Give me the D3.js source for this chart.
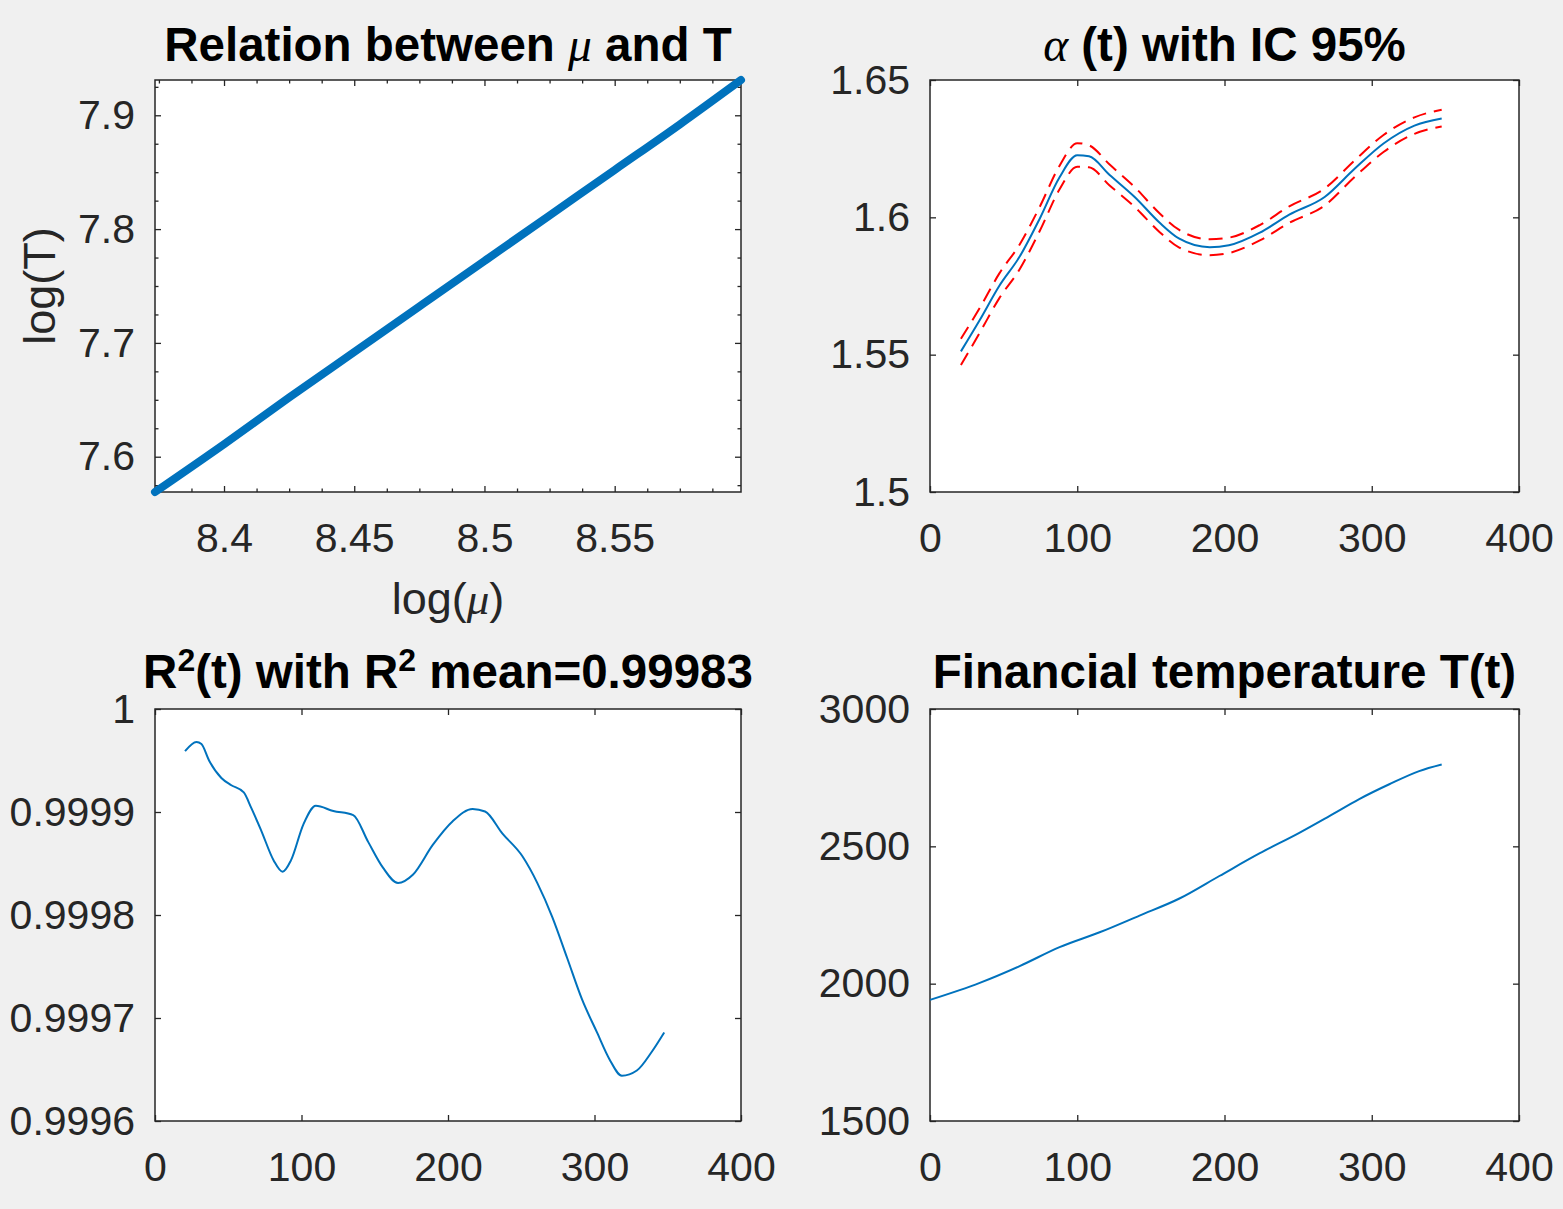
<!DOCTYPE html>
<html><head><meta charset="utf-8">
<script src="https://cdn.jsdelivr.net/npm/d3@7"></script>
<style>
body{margin:0;background:#f0f0f0;}
svg{display:block;}
</style>
</head><body><script>
// ---------------- DATA ----------------
// Panel 1: Relation between mu and T (log-log)
const logMu = [8.3735, 8.400, 8.425, 8.450, 8.475, 8.500, 8.525, 8.550, 8.575, 8.5985];
const logT  = [7.569, 7.611, 7.652, 7.692, 7.732, 7.772, 7.812, 7.852, 7.892, 7.931];
const p1XTicks = [8.4, 8.45, 8.5, 8.55];
const p1YTicks = [7.6, 7.7, 7.8, 7.9];

// Panel 2: alpha(t) with 95% confidence interval
const alphaT     = [21, 34, 47, 61, 74.5, 88, 100, 108, 122, 139, 156, 169, 190, 203, 224, 244, 268, 288, 308, 329, 347.5];
const alphaVal   = [1.5512, 1.5628, 1.5750, 1.5858, 1.5995, 1.6146, 1.6226, 1.6222, 1.6154, 1.6074, 1.5980, 1.5923, 1.5891, 1.5898, 1.5944, 1.6010, 1.6074, 1.6175, 1.6269, 1.6334, 1.6360];
const alphaUpper = [1.5558, 1.5672, 1.5795, 1.5902, 1.6038, 1.6188, 1.6270, 1.6262, 1.6192, 1.6110, 1.6014, 1.5955, 1.5920, 1.5926, 1.5972, 1.6040, 1.6105, 1.6205, 1.6300, 1.6364, 1.6392];
const alphaLower = [1.5462, 1.5582, 1.5705, 1.5812, 1.5950, 1.6102, 1.6184, 1.6182, 1.6116, 1.6038, 1.5946, 1.5891, 1.5862, 1.5870, 1.5916, 1.5980, 1.6043, 1.6145, 1.6238, 1.6304, 1.6331];
const p2YTicks = [1.5, 1.55, 1.6, 1.65];

// Panel 3: R^2(t)
const r2T   = [20.5, 28.3, 31.7, 36.9, 45.3, 52.1, 60.6, 65.7, 72.5, 81, 87.1, 92.8, 101.3, 109.8, 121.7, 135.3, 145.5, 155.6, 165.9, 176, 189.6, 203.2, 216.8, 225.3, 237.2, 250.8, 261, 271.2, 281.4, 291.5, 301.7, 310.2, 318.7, 328.9, 339, 347.6];
const r2Val = [0.999959, 0.999968, 0.999966, 0.999950, 0.999933, 0.999926, 0.999919, 0.999904, 0.999882, 0.999853, 0.999842, 0.999853, 0.999888, 0.999906, 0.999901, 0.999897, 0.999871, 0.999846, 0.999831, 0.999839, 0.999868, 0.999891, 0.999903, 0.9999005, 0.999879, 0.999857, 0.999831, 0.999798, 0.999758, 0.999718, 0.999686, 0.999660, 0.999644, 0.999649, 0.999667, 0.999686];
const p3YTicks = [0.9996, 0.9997, 0.9998, 0.9999, 1];

// Panel 4: Financial temperature T(t)
const tempT   = [0, 33.8, 60.9, 88, 115.2, 142.3, 169.4, 196.5, 223.7, 250.8, 271.2, 291.5, 311.9, 332.2, 347.5];
const tempVal = [1941, 2003, 2064, 2133, 2187, 2248, 2310, 2392, 2474, 2549, 2610, 2672, 2726, 2774, 2798];
const p4YTicks = [1500, 2000, 2500, 3000];

const tTicks = [0, 100, 200, 300, 400];

// ---------------- STYLE / LAYOUT ----------------
const W = 1563, H = 1209;
const FONT = '"Liberation Sans", Arial, Helvetica, sans-serif';
const SERIF = '"Liberation Serif", "Times New Roman", serif';
const AX = '#262626';
const BLUE = '#0072BD';
const RED = '#FF0000';
const TICKFS = 41;
const LABELFS = 45;
const TITLEFS = 47.5;

const svg = d3.select('body').append('svg').attr('width', W).attr('height', H);
svg.append('rect').attr('width', W).attr('height', H).attr('fill', '#f0f0f0');

const cols = [{left: 155, right: 741}, {left: 930, right: 1519}];
const rows = [{top: 80, bottom: 492}, {top: 709, bottom: 1121}];

const fmt = d => String(d);

function makePanel(col, row, xDomain, yDomain, xTicks, yTicks, xMinor, yMinor) {
  const p = {left: cols[col].left, right: cols[col].right, top: rows[row].top, bottom: rows[row].bottom};
  const x = d3.scaleLinear().domain(xDomain).range([p.left, p.right]);
  const y = d3.scaleLinear().domain(yDomain).range([p.bottom, p.top]);
  const g = svg.append('g');
  g.append('rect').attr('x', p.left).attr('y', p.top).attr('width', p.right - p.left)
    .attr('height', p.bottom - p.top).attr('fill', '#ffffff');
  const TL = 6, ML = 3.5;
  const ax = (gen, tr) => {
    const a = g.append('g').attr('transform', tr).call(gen);
    a.select('.domain').remove();
    a.selectAll('line').attr('stroke', AX).attr('stroke-width', 1.3);
    a.selectAll('text').attr('fill', AX).attr('font-size', TICKFS).attr('font-family', FONT);
    return a;
  };
  ax(d3.axisBottom(x).tickValues(xTicks).tickSize(-TL).tickPadding(31).tickFormat(fmt), `translate(0,${p.bottom})`);
  ax(d3.axisTop(x).tickValues(xTicks).tickSize(-TL).tickFormat(''), `translate(0,${p.top})`);
  ax(d3.axisLeft(y).tickValues(yTicks).tickSize(-TL).tickPadding(20).tickFormat(fmt), `translate(${p.left},0)`);
  ax(d3.axisRight(y).tickValues(yTicks).tickSize(-TL).tickFormat(''), `translate(${p.right},0)`);
  if (xMinor) {
    ax(d3.axisBottom(x).tickValues(xMinor).tickSize(-ML).tickFormat(''), `translate(0,${p.bottom})`);
    ax(d3.axisTop(x).tickValues(xMinor).tickSize(-ML).tickFormat(''), `translate(0,${p.top})`);
  }
  if (yMinor) {
    ax(d3.axisLeft(y).tickValues(yMinor).tickSize(-ML).tickFormat(''), `translate(${p.left},0)`);
    ax(d3.axisRight(y).tickValues(yMinor).tickSize(-ML).tickFormat(''), `translate(${p.right},0)`);
  }
  g.append('rect').attr('x', p.left).attr('y', p.top).attr('width', p.right - p.left)
    .attr('height', p.bottom - p.top).attr('fill', 'none').attr('stroke', AX).attr('stroke-width', 1.5);
  return {g, x, y, p};
}

function addTitle(p, baseline, parts) {
  const t = svg.append('text').attr('x', (p.left + p.right) / 2).attr('y', baseline)
    .attr('text-anchor', 'middle').attr('font-family', FONT).attr('font-size', TITLEFS)
    .attr('font-weight', 'bold').attr('fill', '#000');
  parts.forEach(pt => {
    const s = t.append('tspan').text(pt.text);
    if (pt.greek) s.attr('font-family', SERIF).attr('font-style', 'italic').attr('font-weight', 'normal');
    if (pt.sup) s.attr('font-size', 32).attr('dy', -17);
    if (pt.unsup) s.attr('dy', 17);
  });
  return t;
}

// ---------------- PANEL 1 ----------------
const minorX1 = d3.range(0, 19).map(i => +(8.375 + i * 0.0125).toFixed(4)).filter(v => !p1XTicks.some(t => Math.abs(t - v) < 1e-6) && v <= 8.5985);
const minorY1 = d3.range(0, 15).map(i => +(7.575 + i * 0.025).toFixed(4)).filter(v => !p1YTicks.some(t => Math.abs(t - v) < 1e-6) && v <= 7.931);
const P1 = makePanel(0, 0, [8.3735, 8.5985], [7.569, 7.931], p1XTicks, p1YTicks, minorX1, minorY1);
P1.g.append('path').datum(d3.zip(logMu, logT))
  .attr('d', d3.line().x(d => P1.x(d[0])).y(d => P1.y(d[1])).curve(d3.curveMonotoneX))
  .attr('fill', 'none').attr('stroke', BLUE).attr('stroke-width', 8).attr('stroke-linecap', 'round');
addTitle(P1.p, 61, [{text: 'Relation between '}, {text: 'μ', greek: true}, {text: ' and T'}]);
// x label
const xl = svg.append('text').attr('x', (P1.p.left + P1.p.right) / 2).attr('y', 614)
  .attr('text-anchor', 'middle').attr('font-family', FONT).attr('font-size', LABELFS).attr('fill', AX);
xl.append('tspan').text('log(');
xl.append('tspan').text('μ').attr('font-family', SERIF).attr('font-style', 'italic');
xl.append('tspan').text(')');
// y label
svg.append('text').attr('transform', `translate(55,${(P1.p.top + P1.p.bottom) / 2}) rotate(-90)`)
  .attr('text-anchor', 'middle').attr('font-family', FONT).attr('font-size', LABELFS).attr('fill', AX)
  .text('log(T)');

// ---------------- PANEL 2 ----------------
const P2 = makePanel(1, 0, [0, 400], [1.5, 1.65], tTicks, p2YTicks);
const line2 = vals => d3.line().x((d, i) => P2.x(alphaT[i])).y(d => P2.y(d)).curve(d3.curveMonotoneX)(vals);
P2.g.append('path').attr('d', line2(alphaUpper)).attr('fill', 'none').attr('stroke', RED)
  .attr('stroke-width', 2).attr('stroke-dasharray', '14,8');
P2.g.append('path').attr('d', line2(alphaLower)).attr('fill', 'none').attr('stroke', RED)
  .attr('stroke-width', 2).attr('stroke-dasharray', '14,8');
P2.g.append('path').attr('d', line2(alphaVal)).attr('fill', 'none').attr('stroke', BLUE).attr('stroke-width', 2);
addTitle(P2.p, 61, [{text: 'α', greek: true}, {text: ' (t) with IC 95%'}]);

// ---------------- PANEL 3 ----------------
const P3 = makePanel(0, 1, [0, 400], [0.9996, 1], tTicks, p3YTicks);
P3.g.append('path').datum(d3.zip(r2T, r2Val))
  .attr('d', d3.line().x(d => P3.x(d[0])).y(d => P3.y(d[1])).curve(d3.curveMonotoneX))
  .attr('fill', 'none').attr('stroke', BLUE).attr('stroke-width', 2);
addTitle(P3.p, 688, [{text: 'R'}, {text: '2', sup: true}, {text: '(t) with R', unsup: true}, {text: '2', sup: true}, {text: ' mean=0.99983', unsup: true}]);

// ---------------- PANEL 4 ----------------
const P4 = makePanel(1, 1, [0, 400], [1500, 3000], tTicks, p4YTicks);
P4.g.append('path').datum(d3.zip(tempT, tempVal))
  .attr('d', d3.line().x(d => P4.x(d[0])).y(d => P4.y(d[1])).curve(d3.curveMonotoneX))
  .attr('fill', 'none').attr('stroke', BLUE).attr('stroke-width', 2);
addTitle(P4.p, 688, [{text: 'Financial temperature T(t)'}]);
</script></body></html>
